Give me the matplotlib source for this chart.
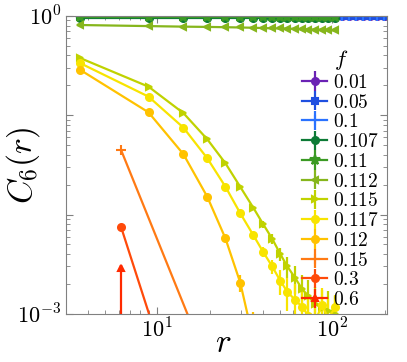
import numpy as np
import matplotlib
matplotlib.use("Agg")
import matplotlib.pyplot as plt

plt.rcParams['mathtext.fontset'] = 'cm'
plt.rcParams['font.family'] = 'DejaVu Serif'

# Данные
r_grid = [3.6, 8.9, 14.1, 19.3, 24.5, 29.8, 35.4, 40.3, 45.4, 50.5, 55.4, 61.4,
          67.3, 73.2, 79.9, 87.6, 94.9, 104.0]
r_long = r_grid + [114.0, 125.0, 137.0, 150.0, 164.0, 180.0, 197.0, 216.0]
r_short = [6.2, 19.3]

c_001 = [1.0, 1.0, 1.0, 1.0, 1.0, 1.0, 1.0, 1.0, 1.0, 1.0, 1.0, 1.0, 1.0,
         1.0, 1.0, 1.0, 1.0, 1.0, 1.0, 1.0, 1.0, 1.0, 1.0, 1.0, 1.0, 1.0]
c_005 = [0.995, 0.995, 0.995, 0.995, 0.995, 0.995, 0.995, 0.995, 0.995, 0.995, 0.995, 0.995,
         0.995, 0.995, 0.995, 0.995, 0.995, 0.995, 0.995, 0.995, 0.995, 0.995, 0.995, 0.995,
         0.995, 0.995]
c_01 = [0.99, 0.99, 0.99, 0.99, 0.99, 0.99, 0.99, 0.99, 0.99, 0.99, 0.99, 0.99,
        0.99, 0.99, 0.99, 0.99, 0.99, 0.99, 0.99, 0.99, 0.99, 0.99, 0.99, 0.99,
        0.99, 0.99]
c_0107 = [0.95, 0.95, 0.95, 0.95, 0.95, 0.95, 0.95, 0.95, 0.95, 0.95, 0.95, 0.95,
          0.95, 0.95, 0.95, 0.95, 0.95, 0.95]
c_011 = [0.97, 0.97, 0.97, 0.97, 0.97, 0.97, 0.97, 0.97, 0.97, 0.97, 0.97, 0.97,
         0.97, 0.97, 0.97, 0.97, 0.97, 0.97]
c_0112 = [0.81, 0.79, 0.78, 0.775, 0.77, 0.765, 0.76, 0.755, 0.75, 0.748, 0.745, 0.74,
          0.735, 0.73, 0.728, 0.725, 0.72, 0.715]
c_0115 = [0.378, 0.194, 0.105, 0.0573, 0.0329, 0.0190, 0.0117, 0.0080, 0.0057, 0.0040,
          0.0030, 0.0023, 0.00178, 0.00150, 0.00125, 0.00115, 0.00108, 0.00100]
e_0115 = [0.002, 0.001, 0.0008, 0.0006, 0.0005, 0.0004, 0.0005, 0.0006, 0.0006, 0.0006,
          0.0007, 0.0007, 0.0007, 0.0007, 0.0006, 0.0006, 0.0006, 0.0005]
c_0117 = [0.336, 0.154, 0.075, 0.0369, 0.0191, 0.0103, 0.0062, 0.0042, 0.0030, 0.00215,
          0.00167, 0.00138, 0.00118, 0.00095, 0.00085, 0.00122, 0.00090, 0.00116]
e_0117 = [0.002, 0.001, 0.0006, 0.0005, 0.0004, 0.0004, 0.0004, 0.0005, 0.0005, 0.0006,
          0.0006, 0.0006, 0.0006, 0.0006, 0.0006, 0.0006, 0.0005, 0.0004]
c_012 = [0.288, 0.107, 0.0405, 0.0151, 0.00577, 0.00206, 0.00055]
e_012 = [0.002, 0.001, 0.0008, 0.0006, 0.0005, 0.0004, 0.0005]
c_015 = [0.0447, 0.00032]
c_03 = [0.0075, 0.000015]
c_06 = [0.0029]

f_labels = ['0.01', '0.05', '0.1', '0.107', '0.11', '0.112', '0.115', '0.117',
            '0.12', '0.15', '0.3', '0.6']
colors = ['#6a22b4', '#1f4fe0', '#2a72ff', '#0c7a36', '#3b9a24', '#86b61c', '#c0d200',
          '#f8e400', '#ffc200', '#ff7a14', '#ff4a0a', '#ff2a00']
markers = ['o', 's', '+', 'o', '*', '<', '>', 'o', 'o', '+', 'o', '^']

series = [
    (r_long, c_001, None),
    (r_long, c_005, None),
    (r_long, c_01, None),
    (r_grid, c_0107, None),
    (r_grid, c_011, None),
    (r_grid, c_0112, None),
    (r_grid, c_0115, e_0115),
    (r_grid, c_0117, e_0117),
    (r_grid[:7], c_012, e_012),
    (r_short, c_015, None),
    (r_short, c_03, None),
    (r_short[:1], c_06, [[0.0029], [0.0002]]),
]

fig = plt.figure(figsize=(4.07, 3.62), dpi=100)
ax = fig.add_axes([0.162, 0.133, 0.789, 0.823])

for (x, y, e), lab, col, mk in zip(series, f_labels, colors, markers):
    ms = 7 if mk in ('+', '*') else 5
    ax.errorbar(x, y, yerr=e if e is not None else np.zeros(len(y)),
                color=col, marker=mk, markersize=ms, markeredgewidth=1.5,
                linewidth=1.6, elinewidth=1.6, capsize=0, label='$' + lab + '$')

ax.set_xscale('log')
ax.set_yscale('log')
ax.set_xlim(3, 206)
ax.set_ylim(1e-3, 1)
ax.set_yticks([1e-3, 1e-2, 1e-1, 1])
ax.set_yticklabels(['$10^{-3}$', '', '', '$10^{0}$'])
ax.set_xticks([10, 100])
ax.set_xticklabels(['$10^{1}$', '$10^{2}$'])

ax.tick_params(which='both', direction='in', top=True, right=True, color='gray',
               labelsize=16)
ax.tick_params(which='major', length=5)
ax.tick_params(which='minor', length=3)
for s in ax.spines.values():
    s.set_color('gray')

ax.set_xlabel('$r$', fontsize=24)
ax.set_ylabel('$C_6(r)$', fontsize=24)
ax.xaxis.set_label_coords(0.49, -0.045)
ax.yaxis.set_label_coords(-0.075, 0.5)

leg = ax.legend(title='$f$', fontsize=14, title_fontsize=16, frameon=False,
                loc='lower right', bbox_to_anchor=(1.0, -0.01), labelspacing=0.09,
                handlelength=1.3, handletextpad=0.3, borderaxespad=0.0)

fig.savefig('out.png', dpi=100)
